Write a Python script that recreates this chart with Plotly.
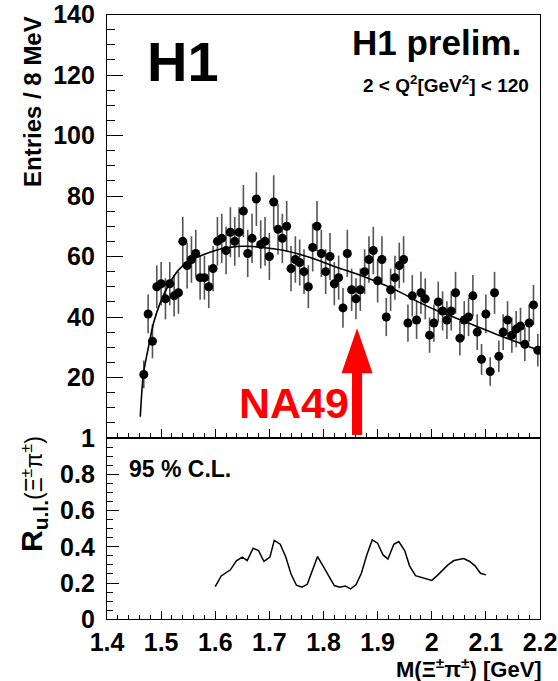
import numpy as np
import plotly.graph_objects as go

# ---------------- data ----------------
# Xi pi invariant-mass histogram: 8 MeV bins starting at 1.464 GeV
BIN_LO = 1.464
BIN_WIDTH = 0.008
COUNTS = [21, 41, 32, 50, 51, 46, 51, 47, 48, 65, 57, 59, 61, 53, 53, 50,
          56, 65, 66, 62, 68, 65, 68, 75, 61, 66, 79, 64, 65, 60, 78, 69,
          66, 70, 56, 59, 58, 55, 50, 63, 70, 61, 55, 60, 51, 53, 43, 61,
          49, 46, 49, 55, 59, 62, 52, 59, 40, 49, 53, 57, 59, 38, 47, 39,
          48, 46, 34, 38, 45, 42, 39, 42, 48, 33, 39, 40, 47, 35, 26, 41,
          22, 48, 27, 35, 39, 34, 36, 37, 31, 38, 44, 29]

# background fit curve (sampled)
FIT_MASS = [1.4615, 1.4672, 1.4765, 1.486, 1.498, 1.5135, 1.532, 1.55, 1.57,
            1.59, 1.61, 1.63, 1.65, 1.67, 1.70, 1.73, 1.76, 1.79, 1.82, 1.85,
            1.88, 1.915, 1.946, 1.975, 2.007, 2.04, 2.069, 2.10, 2.131, 2.165,
            2.196]
FIT_VALUE = [7, 21, 30, 38, 44.5, 50.5, 55.5, 58.3, 60, 61.4, 62.5, 63.1, 63.4,
             63.3, 62.7, 61.9, 60.5, 58.8, 56.7, 54.9, 53, 50.4, 47.8, 45,
             42.3, 40, 37.9, 35.7, 33.5, 31.2, 29.1]

# 95% C.L. upper limit on R
UL_MASS = [1.600, 1.611, 1.628, 1.639, 1.650, 1.659, 1.670, 1.680, 1.690,
           1.701, 1.709, 1.720, 1.730, 1.740, 1.750, 1.760, 1.770, 1.780,
           1.789, 1.799, 1.810, 1.820, 1.830, 1.840, 1.850, 1.860, 1.870,
           1.880, 1.890, 1.900, 1.910, 1.919, 1.930, 1.939, 1.950, 1.959,
           1.970, 1.979, 1.990, 2.000, 2.010, 2.020, 2.030, 2.041, 2.050,
           2.059, 2.070, 2.080, 2.090, 2.100]
UL_VALUE = [0.180, 0.239, 0.273, 0.322, 0.343, 0.324, 0.392, 0.379, 0.319,
            0.343, 0.435, 0.414, 0.346, 0.250, 0.188, 0.177, 0.193, 0.273,
            0.346, 0.295, 0.236, 0.186, 0.177, 0.184, 0.168, 0.190, 0.254,
            0.355, 0.438, 0.420, 0.355, 0.333, 0.414, 0.429, 0.379, 0.295,
            0.241, 0.232, 0.223, 0.214, 0.241, 0.273, 0.300, 0.324, 0.331,
            0.335, 0.319, 0.295, 0.254, 0.245]

NA49_MASS = 1.862

X_TICKS = [1.4, 1.5, 1.6, 1.7, 1.8, 1.9, 2.0, 2.1, 2.2]
X_LABELS = ["1.4", "1.5", "1.6", "1.7", "1.8", "1.9", "2", "2.1", "2.2"]
Y_TOP_TICKS = [20, 40, 60, 80, 100, 120, 140]
Y_BOT_TICKS = [0, 0.2, 0.4, 0.6, 0.8, 1.0]
Y_BOT_LABELS = ["0", "0.2", "0.4", "0.6", "0.8", "1"]

# ---------------- figure ----------------
W, H = 558, 681
FONT = "Liberation Sans, Arial, Helvetica, sans-serif"

def px_x(p):
    return p / W

def px_y(p):
    return 1 - p / H

X_DOM = [px_x(107), px_x(540)]
TOP_DOM = [px_y(438), px_y(14.5)]
BOT_DOM = [px_y(619.3), px_y(438)]

counts = np.array(COUNTS, dtype=float)
centers = BIN_LO + BIN_WIDTH * (np.arange(len(COUNTS)) + 0.5)

fig = go.Figure()

fig.add_trace(go.Scatter(
    x=centers, y=counts, mode="markers",
    marker=dict(color="black", size=9, symbol="circle"),
    error_y=dict(type="data", array=np.sqrt(counts), color="#555555",
                 thickness=1.6, width=0),
    xaxis="x", yaxis="y", showlegend=False, hoverinfo="skip", cliponaxis=True))

fig.add_trace(go.Scatter(
    x=FIT_MASS, y=FIT_VALUE, mode="lines",
    line=dict(color="black", width=1.6, shape="spline", smoothing=0.8),
    xaxis="x", yaxis="y", showlegend=False, hoverinfo="skip"))

fig.add_trace(go.Scatter(
    x=UL_MASS, y=UL_VALUE, mode="lines",
    line=dict(color="black", width=1.5),
    xaxis="x2", yaxis="y2", showlegend=False, hoverinfo="skip"))

# NA49 arrow (red), drawn in data coordinates of the upper panel
shaft_half = 0.0093
head_half = 0.0287
head_base = 21.4
tip = 36.3
arrow_path = (f"M {NA49_MASS - shaft_half} 1.0 L {NA49_MASS - shaft_half} {head_base} "
              f"L {NA49_MASS - head_half} {head_base} L {NA49_MASS} {tip} "
              f"L {NA49_MASS + head_half} {head_base} L {NA49_MASS + shaft_half} {head_base} "
              f"L {NA49_MASS + shaft_half} 1.0 Z")
fig.add_shape(type="path", path=arrow_path, xref="x", yref="y",
              fillcolor="#ff0000", line=dict(width=0), layer="above")

axis_common = dict(
    showline=True, linecolor="black", linewidth=1.3, mirror=True,
    ticks="inside", tickcolor="black", tickwidth=1.1,
    showgrid=False, zeroline=False, automargin=False,
    tickfont=dict(family=FONT, size=25, color="black", weight="bold"),
)

fig.update_layout(
    width=W, height=H, autosize=False,
    margin=dict(l=0, r=0, t=0, b=0),
    paper_bgcolor="white", plot_bgcolor="white",
    xaxis=dict(domain=X_DOM, anchor="y", range=[1.4, 2.2],
               tickvals=X_TICKS, showticklabels=False, ticklen=9,
               minor=dict(ticks="inside", dtick=0.02, tick0=1.4, ticklen=4.5,
                          tickcolor="black", tickwidth=1.1, showgrid=False),
               **axis_common),
    yaxis=dict(domain=TOP_DOM, anchor="x", range=[0, 140],
               tickvals=Y_TOP_TICKS, ticklen=16, ticklabelstandoff=6,
               minor=dict(ticks="inside", dtick=5, tick0=0, ticklen=8,
                          tickcolor="black", tickwidth=1.1, showgrid=False),
               **axis_common),
    xaxis2=dict(domain=X_DOM, anchor="y2", range=[1.4, 2.2],
                tickvals=X_TICKS, ticktext=X_LABELS, ticklen=8,
                ticklabelstandoff=1,
                minor=dict(ticks="inside", dtick=0.02, tick0=1.4, ticklen=4,
                           tickcolor="black", tickwidth=1.1, showgrid=False),
                **axis_common),
    yaxis2=dict(domain=BOT_DOM, anchor="x2", range=[0, 1],
                tickvals=Y_BOT_TICKS, ticktext=Y_BOT_LABELS, ticklen=12,
                ticklabelstandoff=6,
                minor=dict(ticks="inside", dtick=0.05, tick0=0, ticklen=6,
                           tickcolor="black", tickwidth=1.1, showgrid=False),
                **axis_common),
)

def label(text, x, y, size, xanchor="center", color="black", angle=0):
    fig.add_annotation(text=text, x=px_x(x), y=px_y(y), xref="paper", yref="paper",
                       xanchor=xanchor, yanchor="middle", showarrow=False,
                       textangle=angle,
                       font=dict(family=FONT, size=size, color=color, weight="bold"))

label("H1", 183, 61, 56)
label("H1 prelim.", 523, 42, 35, xanchor="right")
label("2 < Q<sup>2</sup>[GeV<sup>2</sup>] < 120", 531, 84, 19, xanchor="right")
label("Entries / 8 MeV", 32, 102, 24, angle=-90)
label("NA49", 351, 403, 43, xanchor="right", color="#ff0000")
label("95 % C.L.", 127, 469, 23, xanchor="left")
label("R<sub>u.l.</sub><span style='font-size:23px;font-weight:normal'>"
      "(Ξ<sup>±</sup>π<sup>±</sup>)</span>", 33, 494, 30, angle=-90)
label("M(Ξ<sup>±</sup>π<sup>±</sup>) [GeV]", 544, 668, 22, xanchor="right")

fig.write_html("out.html")
